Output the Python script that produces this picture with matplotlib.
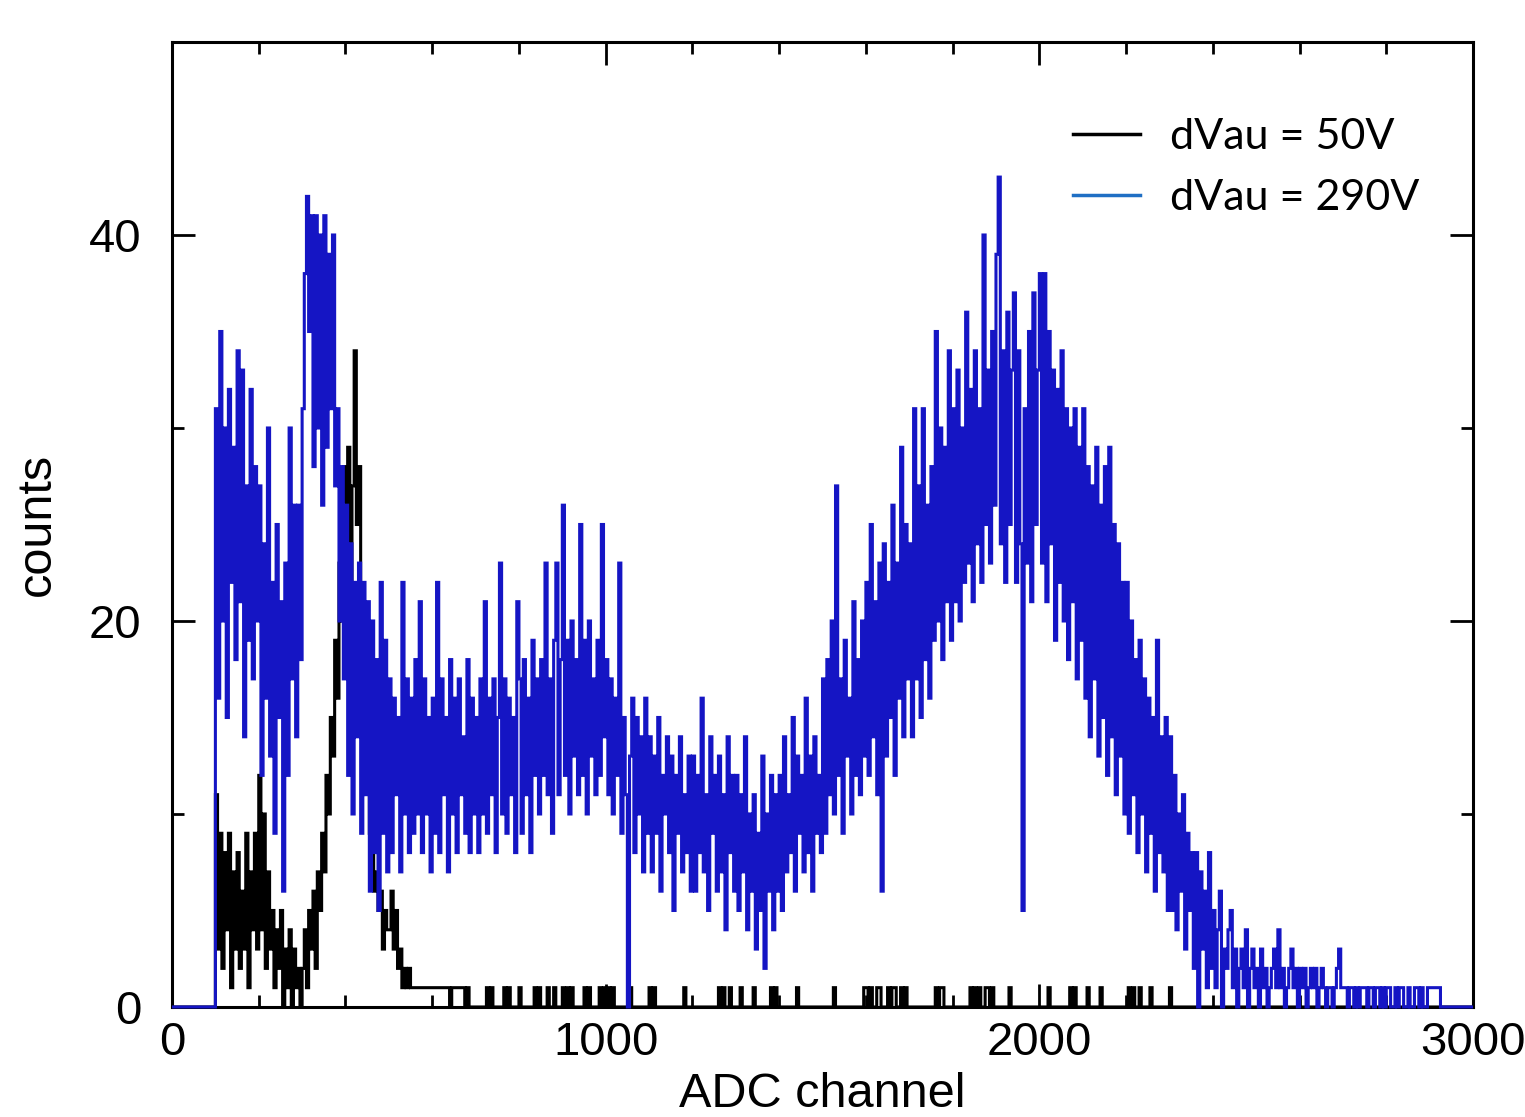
import numpy as np
import matplotlib.pyplot as plt
from matplotlib.lines import Line2D
from matplotlib.ticker import MultipleLocator

plt.rcParams['font.family'] = ['Liberation Sans', 'DejaVu Sans']

# histogram bins of 5 ADC channels, from channel 0 to 3000 (one row = 100 channels)
bin_width = 5

# dVau = 50V
counts_50V = [
    0, 0, 0, 0, 0, 0, 0, 0, 0, 0, 0, 0, 0, 0, 0, 0, 0, 0, 0, 0,
    11, 3, 9, 2, 8, 4, 9, 1, 7, 3, 8, 2, 6, 3, 9, 1, 7, 4, 9, 3,
    12, 4, 10, 2, 7, 3, 5, 1, 4, 2, 5, 0, 3, 1, 4, 0, 3, 1, 2, 0,
    2, 4, 1, 5, 3, 6, 2, 7, 5, 9, 7, 12, 10, 15, 13, 19, 16, 23, 20, 28,
    24, 29, 21, 27, 34, 25, 28, 20, 19, 14, 12, 9, 8, 6, 7, 5, 6, 3, 5, 4,
    4, 6, 3, 5, 2, 3, 1, 2, 1, 2, 1, 1, 1, 1, 1, 1, 1, 1, 1, 1,
    1, 1, 1, 1, 1, 1, 1, 1, 0, 1, 1, 1, 1, 1, 1, 0, 1, 0, 0, 0,
    0, 0, 0, 0, 0, 1, 0, 1, 0, 0, 0, 0, 0, 1, 0, 1, 0, 0, 0, 0,
    1, 0, 0, 0, 0, 0, 0, 1, 0, 1, 0, 0, 0, 1, 0, 0, 1, 0, 0, 0,
    1, 0, 1, 0, 1, 0, 0, 0, 0, 0, 1, 0, 1, 0, 0, 0, 0, 1, 0, 1,
    0, 1, 0, 1, 0, 0, 0, 0, 0, 0, 0, 1, 0, 0, 0, 0, 0, 0, 0, 0,
    1, 0, 1, 0, 0, 0, 0, 0, 0, 0, 0, 0, 0, 0, 0, 0, 1, 0, 0, 0,
    0, 0, 0, 0, 0, 0, 0, 0, 0, 0, 0, 0, 1, 0, 1, 0, 0, 1, 0, 0,
    0, 0, 1, 0, 0, 0, 0, 0, 1, 0, 0, 0, 0, 0, 0, 0, 1, 0, 1, 0,
    0, 0, 0, 0, 0, 0, 0, 0, 1, 0, 0, 0, 0, 0, 0, 0, 0, 0, 0, 0,
    0, 0, 0, 0, 0, 1, 0, 0, 0, 0, 0, 0, 0, 0, 0, 0, 0, 0, 0, 1,
    1, 0, 1, 0, 0, 1, 1, 0, 0, 0, 1, 0, 1, 1, 0, 0, 1, 0, 1, 0,
    0, 0, 0, 0, 0, 0, 0, 0, 0, 0, 0, 0, 1, 0, 1, 1, 0, 0, 0, 0,
    0, 0, 0, 0, 0, 0, 0, 0, 1, 0, 1, 0, 1, 0, 0, 1, 1, 0, 1, 0,
    0, 0, 0, 0, 0, 0, 1, 0, 0, 0, 0, 0, 0, 0, 0, 0, 0, 0, 0, 0,
    0, 0, 0, 0, 1, 0, 0, 0, 0, 0, 0, 0, 0, 0, 1, 0, 1, 0, 0, 0,
    0, 0, 1, 0, 0, 0, 0, 0, 1, 0, 0, 0, 0, 0, 0, 0, 0, 0, 0, 0,
    0, 1, 0, 1, 0, 0, 1, 0, 0, 0, 0, 1, 0, 0, 0, 0, 0, 0, 0, 0,
    1, 0, 0, 0, 0, 0, 0, 0, 0, 0, 0, 0, 0, 0, 0, 0, 0, 0, 0, 0,
    0, 0, 0, 0, 0, 0, 0, 0, 0, 0, 0, 0, 0, 0, 0, 0, 0, 0, 0, 0,
    0, 0, 0, 0, 0, 0, 0, 0, 0, 0, 0, 0, 0, 0, 0, 0, 0, 0, 0, 0,
    0, 0, 0, 0, 0, 0, 0, 0, 0, 0, 0, 0, 0, 0, 0, 0, 0, 0, 0, 0,
    0, 0, 0, 0, 0, 0, 0, 0, 0, 0, 0, 0, 0, 0, 0, 0, 0, 0, 0, 0,
    0, 0, 0, 0, 0, 0, 0, 0, 0, 0, 0, 0, 0, 0, 0, 0, 0, 0, 0, 0,
    0, 0, 0, 0, 0, 0, 0, 0, 0, 0, 0, 0, 0, 0, 0, 0, 0, 0, 0, 0,
]

# dVau = 290V
counts_290V = [
    0, 0, 0, 0, 0, 0, 0, 0, 0, 0, 0, 0, 0, 0, 0, 0, 0, 0, 0, 0,
    31, 16, 35, 20, 30, 15, 32, 22, 29, 18, 34, 21, 33, 14, 27, 19, 32, 17, 28, 20,
    27, 12, 24, 16, 30, 13, 22, 9, 25, 15, 21, 6, 23, 12, 30, 17, 26, 14, 26, 18,
    31, 38, 42, 35, 41, 28, 41, 30, 40, 26, 41, 29, 39, 31, 40, 27, 31, 20, 28, 17,
    26, 12, 24, 10, 22, 14, 23, 9, 22, 11, 21, 6, 20, 8, 18, 5, 22, 9, 19, 7,
    17, 8, 16, 11, 15, 7, 22, 10, 17, 8, 16, 9, 18, 10, 21, 8, 17, 10, 15, 7,
    16, 9, 22, 8, 17, 11, 15, 7, 18, 10, 16, 8, 17, 11, 14, 9, 18, 8, 16, 10,
    15, 8, 17, 10, 21, 9, 16, 11, 17, 8, 15, 23, 10, 17, 9, 16, 11, 15, 8, 21,
    17, 9, 18, 11, 16, 8, 19, 12, 17, 10, 18, 12, 23, 11, 17, 9, 19, 23, 11, 18,
    26, 12, 19, 10, 20, 13, 18, 11, 25, 12, 19, 10, 20, 13, 17, 11, 19, 12, 25, 14,
    18, 11, 17, 10, 16, 12, 23, 9, 15, 11, 0, 13, 16, 8, 15, 10, 14, 7, 16, 9,
    14, 7, 13, 9, 15, 6, 12, 10, 14, 8, 13, 5, 12, 9, 14, 7, 11, 8, 13, 6,
    13, 6, 12, 8, 16, 7, 11, 5, 14, 9, 12, 6, 13, 7, 11, 4, 14, 8, 12, 6,
    12, 5, 11, 7, 14, 4, 10, 6, 11, 3, 9, 5, 13, 2, 10, 6, 12, 4, 11, 6,
    12, 5, 14, 7, 11, 8, 15, 6, 13, 9, 12, 7, 16, 8, 13, 6, 14, 9, 12, 8,
    17, 9, 18, 11, 20, 10, 27, 12, 17, 9, 19, 13, 16, 10, 21, 12, 18, 11, 20, 13,
    22, 12, 25, 14, 21, 11, 23, 6, 24, 13, 22, 15, 26, 12, 23, 16, 29, 14, 25, 17,
    24, 14, 31, 17, 27, 15, 31, 18, 26, 16, 28, 19, 35, 20, 30, 18, 29, 21, 34, 19,
    31, 21, 33, 20, 30, 22, 36, 23, 32, 21, 34, 24, 31, 22, 40, 25, 33, 23, 35, 26,
    39, 43, 24, 34, 22, 36, 25, 33, 37, 22, 34, 24, 5, 31, 23, 35, 21, 37, 25, 33,
    38, 23, 38, 21, 35, 24, 33, 19, 32, 22, 34, 20, 31, 18, 30, 21, 31, 17, 29, 19,
    31, 16, 28, 14, 27, 17, 29, 13, 26, 15, 28, 12, 29, 14, 25, 11, 24, 13, 22, 10,
    22, 9, 20, 11, 18, 8, 19, 10, 17, 7, 16, 9, 15, 6, 19, 8, 14, 7, 15, 5,
    14, 5, 12, 4, 10, 6, 11, 3, 9, 5, 8, 2, 8, 0, 7, 3, 6, 1, 8, 2,
    5, 1, 4, 6, 0, 3, 2, 4, 5, 1, 3, 0, 2, 3, 1, 4, 0, 2, 3, 1,
    2, 0, 3, 1, 2, 0, 1, 2, 3, 1, 4, 1, 2, 0, 1, 2, 3, 1, 2, 0,
    2, 1, 2, 0, 1, 2, 1, 2, 0, 1, 2, 1, 0, 1, 1, 0, 1, 2, 3, 1,
    1, 1, 0, 1, 1, 0, 1, 0, 1, 1, 1, 0, 1, 1, 0, 1, 1, 0, 1, 0,
    1, 1, 0, 0, 1, 0, 1, 1, 0, 0, 1, 0, 0, 1, 1, 0, 1, 0, 0, 1,
    1, 1, 1, 1, 1, 0, 0, 0, 0, 0, 0, 0, 0, 0, 0, 0, 0, 0, 0, 0,
]

legend_labels = ['dVau = 50V', 'dVau = 290V']

edges_50V = np.arange(len(counts_50V) + 1) * bin_width
edges_290V = np.arange(len(counts_290V) + 1) * bin_width
blue = '#1515c4'

fig = plt.figure(figsize=(15.25, 11.17), dpi=100)
ax = fig.add_axes([0.1128, 0.0985, 0.8531, 0.8639])

ax.stairs(counts_50V, edges_50V, color='black', lw=2.2, zorder=3, clip_on=False)
ax.stairs(counts_290V, edges_290V, color=blue, lw=2.2, zorder=3.1, clip_on=False)

ax.set_xlim(0, 3000)
ax.set_ylim(0, 50)
ax.xaxis.set_major_locator(MultipleLocator(1000))
ax.xaxis.set_minor_locator(MultipleLocator(200))
ax.yaxis.set_major_locator(MultipleLocator(20))
ax.yaxis.set_minor_locator(MultipleLocator(10))

for s in ax.spines.values():
    s.set_linewidth(2.2)
ax.tick_params(which='both', direction='in', top=True, right=True, width=2)
ax.tick_params(which='major', length=16.5, labelsize=34)
ax.tick_params(which='minor', length=8.5)
ax.tick_params(axis='x', which='major', pad=10)
ax.tick_params(axis='y', which='major', pad=22)

ax.set_xlabel('ADC channel', fontsize=35, labelpad=5)
ax.set_ylabel('counts', fontsize=35, labelpad=21)

handles = [Line2D([], [], color='black', lw=2.5),
           Line2D([], [], color='#1f6fc4', lw=2.5)]
ax.legend(handles, legend_labels, loc='upper left',
          bbox_to_anchor=(1073 / 1525, 1 - 118 / 1117), bbox_transform=fig.transFigure,
          frameon=False, borderpad=0, borderaxespad=0, handlelength=1.56,
          handletextpad=0.7, labelspacing=0.54, prop={'family': 'Lato', 'size': 31})

fig.savefig('out.png', dpi=100)
